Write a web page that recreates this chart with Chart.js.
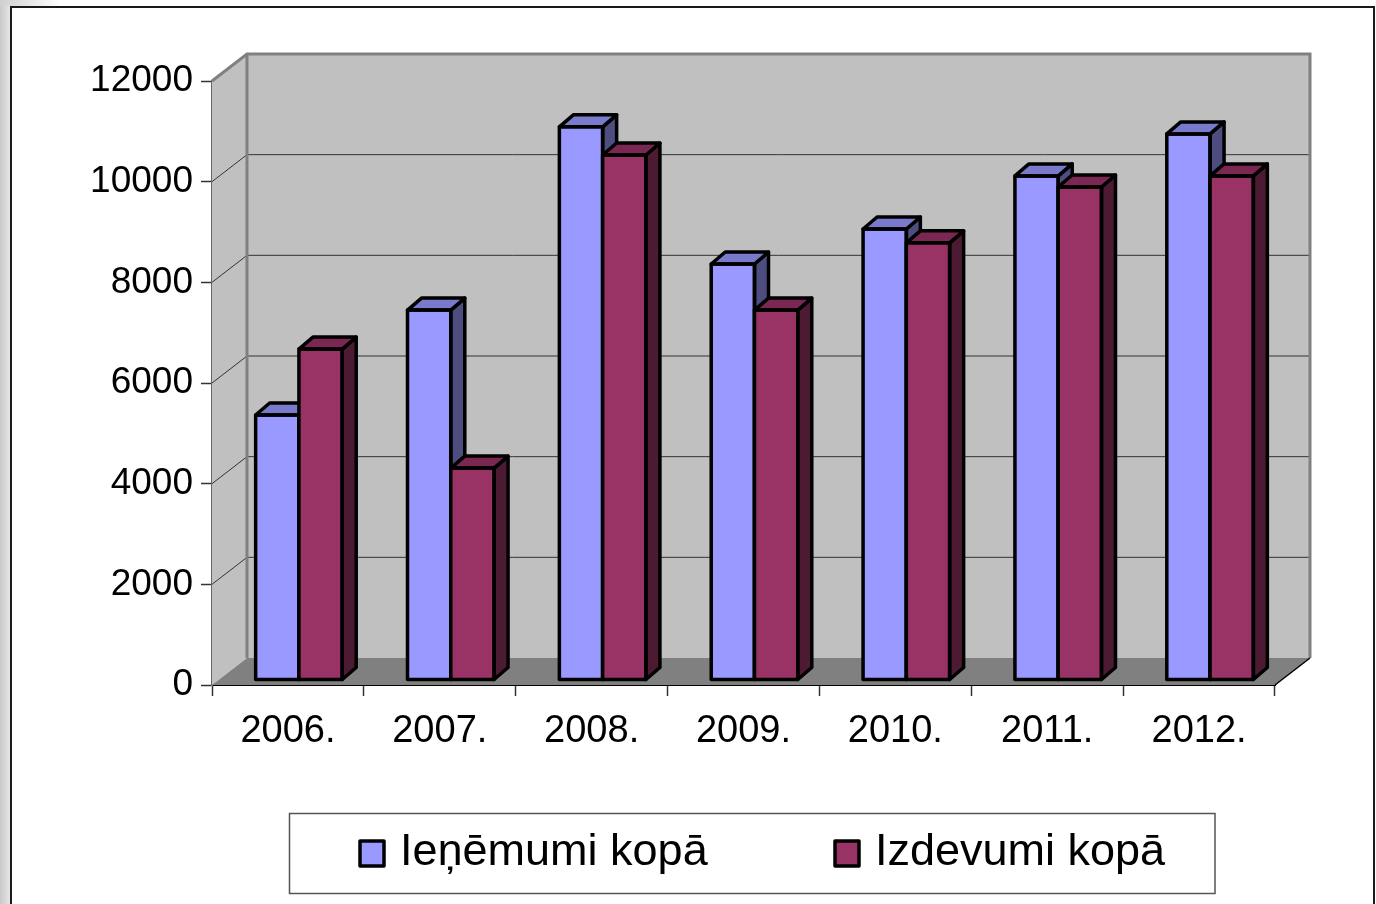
<!DOCTYPE html>
<html>
<head>
<meta charset="utf-8">
<style>
html,body{margin:0;padding:0;background:#fff;width:1376px;height:904px;overflow:hidden}
#left{position:absolute;left:0;top:0;width:10px;height:904px;background:linear-gradient(90deg,#c9c9c9,#e6e6e6)}
#topb{position:absolute;left:0;top:0;width:60px;height:6px;background:linear-gradient(90deg,#d0d0d0,#fff)}
#card{position:absolute;left:10px;top:6px;width:1361px;height:900px;border:2px solid #1a1a1a;background:#fff;box-sizing:content-box}
canvas{position:absolute;left:0;top:0}
</style>
<script src="https://cdn.jsdelivr.net/npm/chart.js@4"></script>
</head>
<body>
<div id="left"></div><div id="topb"></div><div id="card"></div>
<canvas id="c" width="1376" height="904"></canvas>
<script>
const years = ['2006.','2007.','2008.','2009.','2010.','2011.','2012.'];
const incomeLabel = 'Ieņēmumi kopā';
const expenseLabel = 'Izdevumi kopā';
const income = [5265,7350,10990,8265,8960,10015,10850];
const expense = [6575,4210,10430,7350,8685,9795,10015];

const FONT = '"Liberation Sans", Arial, sans-serif';
const WALL = {dx:35, dy:-27};
const BAR = {shiftX:11, shiftY:-5, dx:14, dy:-12};
const STROKE = 3.5;
const shades = {
  '#9999FF': {side:'#4D4D80', top:'#7A7ACC'},
  '#993366': {side:'#4D1A33', top:'#7A2852'}
};

function poly(ctx, pts, fill, stroke, lw){
  ctx.beginPath();
  pts.forEach((p,i)=> i ? ctx.lineTo(p[0],p[1]) : ctx.moveTo(p[0],p[1]));
  ctx.closePath();
  if(fill){ctx.fillStyle=fill;ctx.fill();}
  if(stroke){ctx.strokeStyle=stroke;ctx.lineWidth=lw;ctx.stroke();}
}

function decorate(chart,index){
  const ctx=chart.ctx;
  const color=chart.data.datasets[index].backgroundColor;
  const s=shades[color];
  ctx.lineJoin='round';
  chart.getDatasetMeta(index).data.forEach(el=>{
    const p=el.getProps(['x','y','base','width'],true);
    const l=p.x-p.width/2,r=p.x+p.width/2,t=p.y,b=p.base,{dx,dy}=BAR;
    poly(ctx,[[r,t],[r+dx,t+dy],[r+dx,b+dy],[r,b]],s.side,'#000',STROKE);
    poly(ctx,[[l,t],[l+dx,t+dy],[r+dx,t+dy],[r,t]],s.top,'#000',STROKE);
    poly(ctx,[[l,t],[r,t],[r,b],[l,b]],null,'#000',STROKE);
  });
}

const walls = {
  id:'walls',
  beforeDatasetsDraw(chart){
    const {ctx, chartArea:a, scales:{y}} = chart;
    const {dx,dy} = WALL;
    ctx.save();
    poly(ctx,[[a.left,a.top],[a.left+dx,a.top+dy],[a.left+dx,a.bottom+dy],[a.left,a.bottom]],'#C0C0C0');
    poly(ctx,[[a.left+dx,a.top+dy],[a.right+dx,a.top+dy],[a.right+dx,a.bottom+dy],[a.left+dx,a.bottom+dy]],'#C0C0C0');
    poly(ctx,[[a.left,a.bottom],[a.left+dx,a.bottom+dy],[a.right+dx,a.bottom+dy],[a.right,a.bottom]],'#808080');
    y.ticks.forEach(t=>{
      if(t.value===0||t.value===12000) return;
      const py=y.getPixelForValue(t.value);
      ctx.beginPath();
      ctx.moveTo(a.left,py);ctx.lineTo(a.left+dx,py+dy);ctx.lineTo(a.right+dx,py+dy);
      ctx.strokeStyle='#333';ctx.lineWidth=1;ctx.stroke();
    });
    ctx.strokeStyle='#808080';ctx.lineWidth=3;ctx.lineJoin='miter';
    ctx.beginPath();
    ctx.moveTo(a.left,a.top);ctx.lineTo(a.left+dx,a.top+dy);ctx.lineTo(a.right+dx,a.top+dy);ctx.lineTo(a.right+dx,a.bottom+dy);
    ctx.moveTo(a.left+dx,a.top+dy);ctx.lineTo(a.left+dx,a.bottom+dy);
    ctx.stroke();
    ctx.strokeStyle='#000';ctx.lineWidth=1.5;
    ctx.beginPath();ctx.moveTo(a.right,a.bottom);ctx.lineTo(a.right+dx,a.bottom+dy);ctx.stroke();
    ctx.restore();
  },
  // Chart.js paints the first dataset last; the left bars must sit behind the right ones.
  beforeDatasetDraw(chart,args){
    if(args.index===1) return false;
    chart.ctx.save();
    chart.ctx.translate(BAR.shiftX,BAR.shiftY);
  },
  afterDatasetDraw(chart,args){
    decorate(chart,0);
    chart.getDatasetMeta(1).controller.draw();
    decorate(chart,1);
    chart.ctx.restore();
  },
  afterDraw(chart){
    const ctx=chart.ctx;
    ctx.save();
    ctx.strokeStyle='#555';ctx.lineWidth=1.5;
    ctx.strokeRect(289.5,813.5,925.5,80);
    const xs=[[360,400],[835,875]];
    ctx.font='45px '+FONT;ctx.textBaseline='alphabetic';ctx.textAlign='left';
    chart.data.datasets.forEach((d,i)=>{
      ctx.lineJoin='round';
      poly(ctx,[[xs[i][0],841],[xs[i][0]+24,841],[xs[i][0]+24,866],[xs[i][0],866]],d.backgroundColor,'#000',STROKE);
      ctx.fillStyle='#000';
      ctx.fillText(d.label,xs[i][1],865);
    });
    ctx.restore();
  }
};

new Chart(document.getElementById('c'),{
  type:'bar',
  data:{labels:years,datasets:[
    {label:incomeLabel,data:income,backgroundColor:'#9999FF',borderWidth:0,clip:false},
    {label:expenseLabel,data:expense,backgroundColor:'#993366',borderWidth:0,clip:false}
  ]},
  options:{
    responsive:false,animation:false,
    devicePixelRatio:1,
    layout:{autoPadding:false,padding:{top:81,right:101,left:0,bottom:0}},
    datasets:{bar:{categoryPercentage:0.57,barPercentage:1}},
    plugins:{legend:{display:false},tooltip:{enabled:false},title:{display:false}},
    scales:{
      x:{
        grid:{display:true,drawOnChartArea:false,drawTicks:true,tickLength:11,color:'#333',tickWidth:1.5},
        border:{display:true,color:'#000',width:2},
        ticks:{font:{family:FONT,size:38},color:'#000',padding:13,maxRotation:0,minRotation:0,autoSkip:false},
        afterFit(s){s.height=219;}
      },
      y:{
        min:0,max:12000,
        grid:{display:true,drawOnChartArea:false,drawTicks:true,tickLength:11,color:'#333',tickWidth:1.5},
        border:{display:true,color:'#666',width:2},
        ticks:{stepSize:2000,format:{useGrouping:false},font:{family:FONT,size:37},color:'#000',padding:8},
        afterFit(s){s.width=212;}
      }
    }
  },
  plugins:[walls]
});
</script>
</body>
</html>
